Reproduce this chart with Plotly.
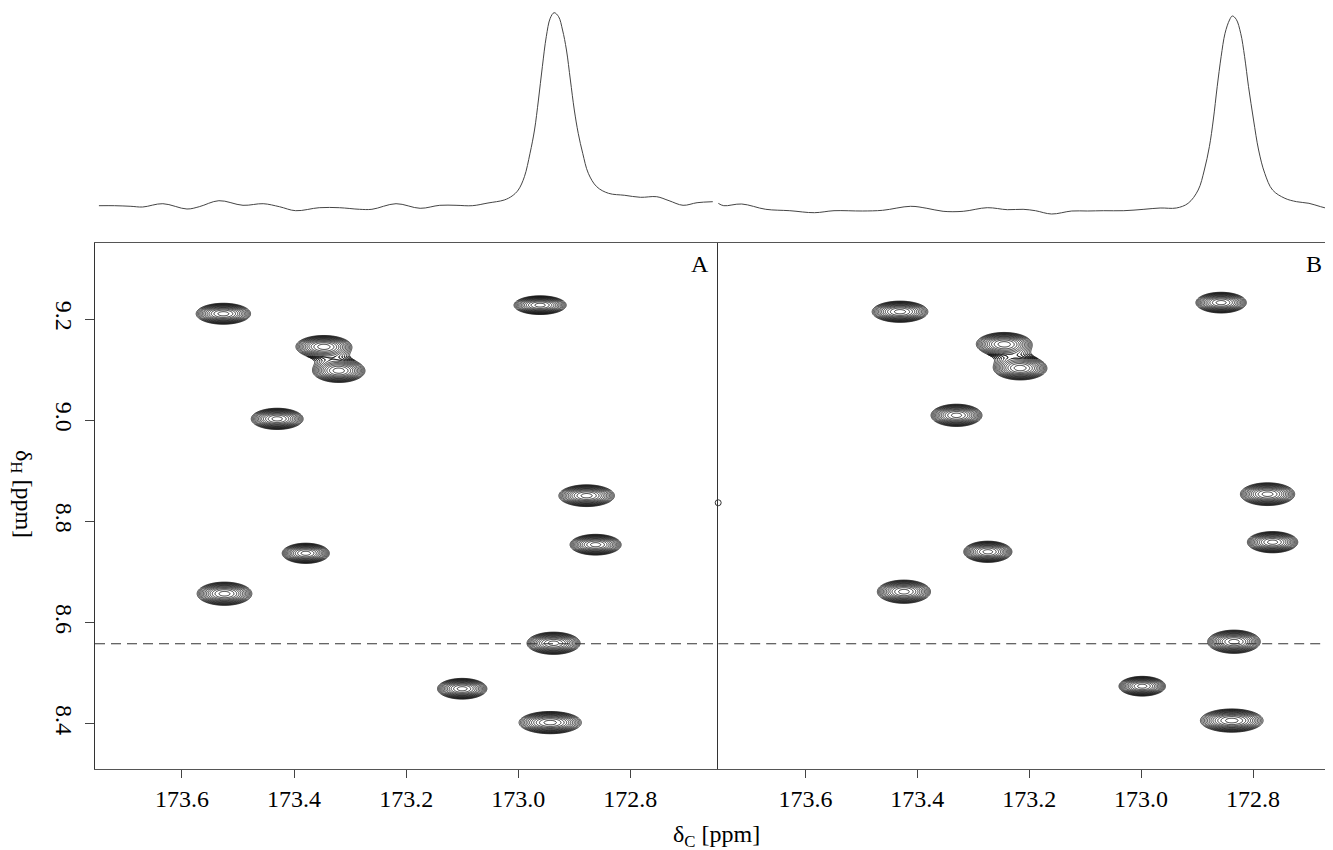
import numpy as np
import plotly.graph_objects as go

# ---------------- data ----------------
# 2D cross peaks, panel A: 13C shift, 1H shift, outer contour full width (C), full height (H), ppm
a_c = [173.526, 173.347, 173.320, 173.430, 172.961, 172.878, 172.862, 173.379, 173.524, 172.937, 173.100, 172.943]
a_h = [9.211, 9.146, 9.098, 9.003, 9.228, 8.851, 8.754, 8.737, 8.657, 8.559, 8.469, 8.402]
a_wc = [0.097, 0.099, 0.093, 0.0925, 0.093, 0.099, 0.091, 0.084, 0.0975, 0.0946, 0.088, 0.111]
a_wh = [0.0415, 0.044, 0.046, 0.042, 0.037, 0.043, 0.041, 0.040, 0.046, 0.044, 0.041, 0.044]

# panel B
b_c = [173.431, 172.857, 173.245, 173.216, 173.330, 172.774, 172.765, 173.274, 173.424, 172.834, 172.998, 172.838]
b_h = [9.215, 9.233, 9.151, 9.103, 9.010, 8.854, 8.759, 8.740, 8.661, 8.562, 8.474, 8.406]
b_wc = [0.0995, 0.090, 0.099, 0.095, 0.091, 0.097, 0.090, 0.086, 0.095, 0.094, 0.083, 0.112]
b_wh = [0.042, 0.041, 0.046, 0.046, 0.044, 0.045, 0.042, 0.042, 0.046, 0.046, 0.039, 0.046]

# 1D 13C projection traces (ppm, intensity in arbitrary units)
p1_c = [173.748, 173.720, 173.691, 173.670, 173.634, 173.591, 173.569, 173.534, 173.491, 173.455,
        173.426, 173.397, 173.355, 173.319, 173.283, 173.261, 173.218, 173.175, 173.140, 173.111,
        173.082, 173.054, 173.025, 173.011, 173.000, 172.989, 172.979, 172.971, 172.964, 172.957,
        172.950, 172.943, 172.936, 172.928, 172.921, 172.914, 172.907, 172.900, 172.893, 172.885,
        172.875, 172.860, 172.839, 172.810, 172.782, 172.753, 172.731, 172.706, 172.681, 172.653]
p1_i = [37.3, 37.3, 36.7, 36.0, 39.3, 34.0, 36.3, 42.3, 37.7, 39.3,
        36.3, 32.3, 35.3, 35.3, 33.7, 33.7, 39.3, 34.7, 37.7, 37.7,
        37.3, 40.0, 43.0, 47.0, 53.0, 66.3, 89.7, 113.0, 143.0, 176.3,
        206.3, 224.7, 230.3, 226.3, 213.0, 193.0, 163.0, 133.0, 109.7, 89.7,
        69.7, 56.3, 49.7, 47.7, 45.7, 46.3, 42.3, 37.7, 40.3, 41.3]

p2_c = [173.756, 173.746, 173.714, 173.671, 173.628, 173.584, 173.549, 173.498, 173.462, 173.412,
        173.383, 173.354, 173.318, 173.275, 173.239, 173.211, 173.189, 173.160, 173.124, 173.096,
        173.067, 173.031, 172.995, 172.966, 172.937, 172.916, 172.898, 172.887, 172.878, 172.871,
        172.864, 172.857, 172.850, 172.842, 172.837, 172.830, 172.822, 172.815, 172.808, 172.799,
        172.790, 172.779, 172.765, 172.743, 172.722, 172.700, 172.679, 172.661]
p2_i = [39.7, 37.3, 39.0, 33.7, 32.3, 30.3, 32.3, 32.0, 32.7, 36.7,
        34.7, 31.7, 31.7, 35.3, 33.3, 33.7, 32.3, 29.0, 32.0, 32.0,
        32.3, 32.3, 33.7, 35.0, 35.0, 39.7, 53.0, 73.0, 96.3, 123.0,
        156.3, 186.3, 209.7, 223.0, 227.0, 223.7, 209.7, 186.3, 156.3, 123.0,
        93.0, 69.7, 53.0, 44.7, 41.3, 39.7, 36.3, 33.7]

dashed_h = 8.558          # horizontal reference line (1H ppm)
marker_c, marker_h = 173.756, 8.837   # small circle on the divider

x_ticks = [173.6, 173.4, 173.2, 173.0, 172.8]
x_ticktext = ["173.6", "173.4", "173.2", "173.0", "172.8"]
y_ticks = [8.4, 8.6, 8.8, 9.0, 9.2]
y_ticktext = ["8.4", "8.6", "8.8", "9.0", "9.2"]

rangeA_c = [173.755, 172.646]
rangeB_c = [173.756, 172.657]
range_h = [8.3096, 9.351]

# ---------------- figure ----------------
# the page body has an 8 px margin: size the figure so it fills the window exactly
OFF = 8
W, H = 1333 - OFF, 850 - OFF
FONT = "Liberation Serif, Times New Roman, serif"


def px(x):
    return (x - OFF) / W


def py(y):
    return 1 - (y - OFF) / H


fig = go.Figure()


def add_peaks(cs, hs, wcs, whs, xa, ya):
    for c, h, wc, wh in zip(cs, hs, wcs, whs):
        gx = np.linspace(c - 0.62 * wc, c + 0.62 * wc, 110)
        gy = np.linspace(h - 0.64 * wh, h + 0.64 * wh, 90)
        X, Y = np.meshgrid(gx, gy)
        S = np.zeros_like(X)
        for c2, h2, wc2, wh2 in zip(cs, hs, wcs, whs):
            S += np.exp(-(((X - c2) / (wc2 / 2)) ** 2 + ((Y - h2) / (wh2 / 2)) ** 2))
        Z = np.maximum(np.log(S + 1e-30), -3.0)
        fig.add_trace(go.Contour(
            x=np.round(gx, 5), y=np.round(gy, 5), z=np.round(Z, 4),
            contours=dict(start=-1.0, end=-0.04, size=0.08, coloring="none"),
            line=dict(color="black", width=0.8, smoothing=1.0),
            showscale=False, hoverinfo="skip", xaxis=xa, yaxis=ya))


add_peaks(a_c, a_h, a_wc, a_wh, "x", "y")
add_peaks(b_c, b_h, b_wc, b_wh, "x2", "y2")

# dashed horizontal line in both panels
fig.add_trace(go.Scatter(x=rangeA_c, y=[dashed_h, dashed_h], mode="lines",
                         line=dict(color="#333", width=1, dash="10px,6px"),
                         hoverinfo="skip", xaxis="x", yaxis="y"))
fig.add_trace(go.Scatter(x=rangeB_c, y=[dashed_h, dashed_h], mode="lines",
                         line=dict(color="#333", width=1, dash="10px,6px"),
                         hoverinfo="skip", xaxis="x2", yaxis="y2"))

# small circle
fig.add_trace(go.Scatter(x=[marker_c], y=[marker_h], mode="markers",
                         marker=dict(symbol="circle-open", size=6, color="#333", line=dict(width=1)),
                         cliponaxis=False, hoverinfo="skip", xaxis="x2", yaxis="y2"))

# 1D projections
fig.add_trace(go.Scatter(x=p1_c, y=p1_i, mode="lines", line=dict(color="#444", width=1, shape="spline"),
                         hoverinfo="skip", xaxis="x3", yaxis="y3"))
fig.add_trace(go.Scatter(x=p2_c, y=p2_i, mode="lines", line=dict(color="#444", width=1, shape="spline"),
                         hoverinfo="skip", xaxis="x4", yaxis="y4"))

# domains (paper fractions) from reference pixel positions
xl0, xl1 = px(95), px(716.7)
xr0, xr1 = px(718.2), 1.0
yb0, yb1 = py(769.3), py(243)
yt0, yt1 = yb1, 1.0

tickfont = dict(family=FONT, size=24, color="black")
common_x = dict(tickmode="array", tickvals=x_ticks, ticktext=x_ticktext, ticks="outside",
                ticklen=8, tickcolor="#444", tickwidth=1, showgrid=False, zeroline=False,
                showline=True, linecolor="#555", linewidth=1, mirror=True, tickfont=tickfont)

fig.update_layout(
    width=W, height=H, margin=dict(l=0, r=0, t=0, b=0),
    paper_bgcolor="white", plot_bgcolor="white", showlegend=False, hovermode=False,
    xaxis=dict(domain=[xl0, xl1], range=rangeA_c, anchor="y", **common_x),
    yaxis=dict(domain=[yb0, yb1], range=range_h, anchor="x", tickmode="array",
               tickvals=y_ticks, ticktext=y_ticktext, ticks="outside", ticklen=9,
               tickcolor="#444", tickwidth=1, tickangle=90, showgrid=False, zeroline=False,
               showline=True, linecolor="#333", linewidth=1, mirror=True, tickfont=tickfont),
    xaxis2=dict(domain=[xr0, xr1], range=rangeB_c, anchor="y2", **common_x),
    yaxis2=dict(domain=[yb0, yb1], range=range_h, anchor="x2", showticklabels=False,
                ticks="", showgrid=False, zeroline=False, showline=True, linecolor="#333",
                linewidth=1, mirror=False),
    xaxis3=dict(domain=[xl0, xl1], range=rangeA_c, anchor="y3", visible=False),
    yaxis3=dict(domain=[yt0, yt1], range=[0, 243 - OFF], anchor="x3", visible=False),
    xaxis4=dict(domain=[xr0, xr1], range=rangeB_c, anchor="y4", visible=False),
    yaxis4=dict(domain=[yt0, yt1], range=[0, 243 - OFF], anchor="x4", visible=False),
)

annfont = dict(family=FONT, size=24, color="black")
fig.add_annotation(x=px(700), y=py(264), xref="paper", yref="paper", text="A",
                   showarrow=False, font=annfont, xanchor="center", yanchor="middle")
fig.add_annotation(x=px(1314), y=py(264), xref="paper", yref="paper", text="B",
                   showarrow=False, font=annfont, xanchor="center", yanchor="middle")
fig.add_annotation(x=px(716), y=py(836), xref="paper", yref="paper",
                   text="δ<sub>C</sub> [ppm]", showarrow=False, font=annfont,
                   xanchor="center", yanchor="middle")
fig.add_annotation(x=px(22), y=py(494), xref="paper", yref="paper",
                   text="δ<sub>H</sub> [ppm]", showarrow=False, font=annfont, textangle=90,
                   xanchor="center", yanchor="middle")

fig.write_html("out.html")
